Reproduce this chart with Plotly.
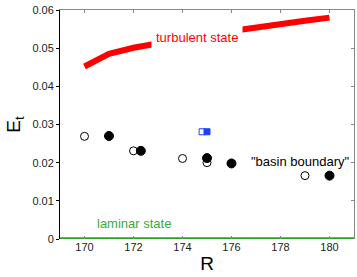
import plotly.graph_objects as go

# turbulent state branch
R_turb = [170, 171, 172, 173, 174, 175, 176, 177, 178, 179, 180]
E_turb = [0.0452, 0.0485, 0.0501, 0.0513, 0.0524, 0.0535, 0.0545, 0.0555, 0.0563, 0.0572, 0.0580]

# laminar state
R_lam = [169, 181]
E_lam = [0.0, 0.0]

# basin boundary points
R_open = [170, 172, 174, 175, 179]
E_open = [0.0269, 0.0231, 0.0211, 0.0200, 0.0166]
R_fill = [171, 172.3, 175, 176, 180]
E_fill = [0.0270, 0.0231, 0.0212, 0.0198, 0.0166]

# blue squares
R_sq_open = [174.8]
E_sq_open = [0.0281]
R_sq_fill = [175.0]
E_sq_fill = [0.0281]

x_ticks = [170, 172, 174, 176, 178, 180]
y_ticks = [0, 0.01, 0.02, 0.03, 0.04, 0.05, 0.06]
y_ticklabels = ["0", "0.01", "0.02", "0.03", "0.04", "0.05", "0.06"]

FONT = "Liberation Sans, Arial, sans-serif"

fig = go.Figure()
fig.add_trace(go.Scatter(x=R_turb, y=E_turb, mode="lines",
                         line=dict(color="#ff0000", width=6), showlegend=False))
fig.add_trace(go.Scatter(x=R_lam, y=E_lam, mode="lines",
                         line=dict(color="#2ca02c", width=3.5), showlegend=False, cliponaxis=False))
fig.add_trace(go.Scatter(x=R_open, y=E_open, mode="markers",
                         marker=dict(symbol="circle", size=8, color="white",
                                     line=dict(color="black", width=1)), showlegend=False))
fig.add_trace(go.Scatter(x=R_fill, y=E_fill, mode="markers",
                         marker=dict(symbol="circle", size=9, color="black",
                                     line=dict(color="black", width=1)), showlegend=False))
fig.add_trace(go.Scatter(x=R_sq_open, y=E_sq_open, mode="markers",
                         marker=dict(symbol="square", size=6, color="white",
                                     line=dict(color="#2040ff", width=1)), showlegend=False))
fig.add_trace(go.Scatter(x=R_sq_fill, y=E_sq_fill, mode="markers",
                         marker=dict(symbol="square", size=6, color="#2040ff",
                                     line=dict(color="#2040ff", width=1)), showlegend=False))

fig.add_annotation(x=174.6, y=0.0527, text="turbulent state", showarrow=False,
                   font=dict(family=FONT, size=13, color="#ff0000"), bgcolor="white",
                   borderpad=4)
fig.add_annotation(x=172.0, y=0.0040, text="laminar state", showarrow=False,
                   font=dict(family=FONT, size=13, color="#3aaa3a"))
fig.add_annotation(x=178.8, y=0.0203, text="\"basin boundary\"", showarrow=False,
                   font=dict(family=FONT, size=13, color="black"))

fig.update_layout(
    width=357, height=277,
    margin=dict(l=60, r=3, t=9.5, b=38),
    paper_bgcolor="white", plot_bgcolor="white",
    font=dict(family=FONT, size=11, color="#222222"),
    xaxis=dict(range=[169, 181], tickvals=x_ticks, ticks="inside", ticklen=3,
               tickcolor="#888888", showline=False, showgrid=False, zeroline=False,
               title=dict(text="R", font=dict(size=19, color="black"), standoff=4)),
    yaxis=dict(range=[0, 0.06], tickvals=y_ticks, ticktext=y_ticklabels,
               ticks="outside", ticklen=3, tickcolor="black",
               showline=True, linecolor="black", linewidth=1,
               showgrid=False, zeroline=False,
               title=dict(text="E<sub>t</sub>", font=dict(size=19, color="black"), standoff=6)),
    xaxis2=dict(range=[169, 181], tickvals=x_ticks, ticks="inside", ticklen=3,
                tickcolor="#888888", showticklabels=False, showline=True,
                linecolor="#888888", linewidth=1, overlaying="x", side="top",
                showgrid=False, zeroline=False),
    yaxis2=dict(range=[0, 0.06], tickvals=y_ticks, ticks="inside", ticklen=3,
                tickcolor="#888888", showticklabels=False, showline=True,
                linecolor="#888888", linewidth=1, overlaying="y", side="right",
                showgrid=False, zeroline=False),
)
# invisible trace to activate secondary axes
fig.add_trace(go.Scatter(x=[169], y=[0], xaxis="x2", yaxis="y2", mode="markers",
                         marker=dict(opacity=0), showlegend=False, hoverinfo="skip"))

fig.write_html("out.html", config={"displayModeBar": False},
               post_script="document.body.style.margin='0';document.body.style.overflow='hidden';")
